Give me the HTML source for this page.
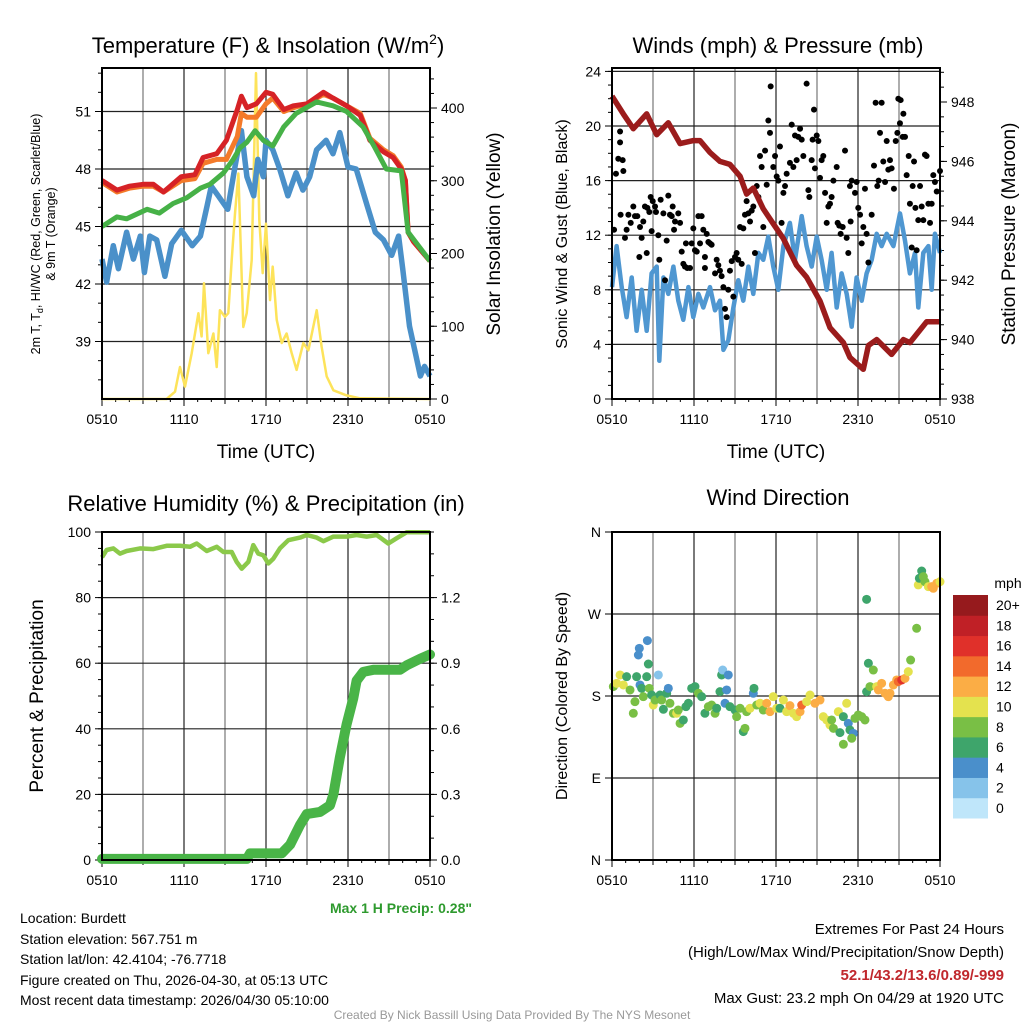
<!DOCTYPE html>
<html><head><meta charset="utf-8"><style>
html,body{margin:0;padding:0;background:#fff}
svg{display:block;font-family:"Liberation Sans",sans-serif}
</style></head><body>
<svg id="c" width="1024" height="1024" viewBox="0 0 1024 1024" xmlns="http://www.w3.org/2000/svg">
<g id="txt" fill="#000">
<text x="268" y="53" font-size="22" text-anchor="middle">Temperature (F) &amp; Insolation (W/m<tspan dy="-9" font-size="14">2</tspan><tspan dy="9">)</tspan></text>
<text x="778" y="53" font-size="22" text-anchor="middle">Winds (mph) &amp; Pressure (mb)</text>
<text x="266" y="511" font-size="22" text-anchor="middle">Relative Humidity (%) &amp; Precipitation (in)</text>
<text x="778" y="505" font-size="22" text-anchor="middle">Wind Direction</text>
<text transform="translate(40,234) rotate(-90)" font-size="12.5" text-anchor="middle">2m T, T<tspan font-size="9" dy="3">d</tspan><tspan dy="-3">, HI/WC (Red, Green, Scarlet/Blue)</tspan></text>
<text transform="translate(55,234) rotate(-90)" font-size="12.5" text-anchor="middle">&amp; 9m T (Orange)</text>
<text transform="translate(500,234) rotate(-90)" font-size="19" text-anchor="middle">Solar Insolation (Yellow)</text>
<text x="266" y="458" font-size="19" text-anchor="middle">Time (UTC)</text>
<text x="776" y="458" font-size="19" text-anchor="middle">Time (UTC)</text>
<text transform="translate(567,234) rotate(-90)" font-size="16" text-anchor="middle">Sonic Wind &amp; Gust (Blue, Black)</text>
<text transform="translate(1015,234) rotate(-90)" font-size="19" text-anchor="middle">Station Pressure (Maroon)</text>
<text transform="translate(43,696) rotate(-90)" font-size="19" text-anchor="middle">Percent &amp; Precipitation</text>
<text transform="translate(567,696) rotate(-90)" font-size="16" text-anchor="middle">Direction (Colored By Speed)</text>
<text x="472" y="913" font-size="14" font-weight="bold" fill="#2e9a2e" text-anchor="end">Max 1 H Precip: 0.28"</text>
<text x="1008" y="588" font-size="14" text-anchor="middle">mph</text>
<g font-size="14">
<text x="20" y="923">Location: Burdett</text>
<text x="20" y="944">Station elevation: 567.751 m</text>
<text x="20" y="964">Station lat/lon: 42.4104; -76.7718</text>
<text x="20" y="985">Figure created on Thu, 2026-04-30, at 05:13 UTC</text>
<text x="20" y="1005">Most recent data timestamp: 2026/04/30 05:10:00</text>
</g>
<g font-size="15" text-anchor="end">
<text x="1004" y="934">Extremes For Past 24 Hours</text>
<text x="1004" y="957">(High/Low/Max Wind/Precipitation/Snow Depth)</text>
<text x="1004" y="980" font-weight="bold" fill="#c0282d">52.1/43.2/13.6/0.89/-999</text>
<text x="1004" y="1003">Max Gust: 23.2 mph On 04/29 at 1920 UTC</text>
</g>
<text x="512" y="1019" font-size="12" fill="#999" text-anchor="middle">Created By Nick Bassill Using Data Provided By The NYS Mesonet</text>
</g>
</svg>
<script>
// ---------- data ----------
const xTickLabels = ['0510','1110','1710','2310','0510'];
const tempTicks = [39,42,45,48,51];
const solarTicks = [0,100,200,300,400];
const windTicks = [0,4,8,12,16,20,24];
const presTicks = [938,940,942,944,946,948];
const rhTicks = [0,20,40,60,80,100];
const precipTicks = ['0.0','0.3','0.6','0.9','1.2'];
const dirLabels = ['N','E','S','W','N'];
const speedBins = ['0','2','4','6','8','10','12','14','16','18','20+'];

const tRed = [0,1.1,2,3,3.75,4.5,5.8,6.8,7.4,8.4,9.1,9.9,10.2,10.6,11.3,12,12.5,13.3,14,15,16.2,16.9,17.9,18.9,19.6,20.6,21.3,21.9,22.2,22.4,22.8,24];
const redT = [47.4,46.9,47.1,47.2,47.2,46.8,47.6,47.7,48.6,48.8,49.5,51.1,51.8,51.2,51.4,52.0,51.9,51.1,51.3,51.4,52.0,51.7,51.3,50.8,49.5,48.9,48.6,48.0,47.4,44.7,44.2,43.2];
const orangeT = [47.3,46.8,47.0,47.1,47.1,46.8,47.4,47.5,48.3,48.5,48.5,49.7,50.9,50.7,50.7,51.4,51.7,51.0,51.2,51.4,51.9,51.7,51.3,50.9,49.6,49.0,48.7,48.1,47.4,44.7,44.2,43.2];
const tGreen = [0,1.1,1.8,3.3,4.2,5.2,6.2,7.2,7.9,8.9,9.6,10.1,10.6,11.2,11.8,12.5,13.3,14.2,15.2,15.7,16.9,17.9,19.1,19.9,20.8,21.9,22.4,24];
const greenT = [45.0,45.5,45.4,45.9,45.7,46.2,46.5,47.0,47.2,47.8,48.5,49.1,49.4,50.0,49.5,49.2,50.2,50.9,51.3,51.5,51.3,51.0,50.2,49.2,48.0,47.9,44.7,43.2];
const tBlue = [0,0.34,0.83,1.2,1.8,2.3,2.8,3.1,3.5,4.0,4.6,5.1,5.8,6.6,7.2,7.7,8.0,8.5,9.2,9.7,10.2,10.6,11.1,11.4,11.8,12.0,12.5,13.0,13.6,14.2,14.7,15.2,15.7,16.4,16.9,17.4,18.0,18.6,19.4,20.0,20.6,21.2,21.7,22.0,22.5,23.3,23.6,24];
const blueT = [43.3,42.1,44.0,42.8,44.7,43.3,44.5,42.6,44.5,44.3,42.4,44.1,44.8,44.0,44.5,46.1,47.1,46.6,45.9,48.0,50.0,47.6,46.6,48.5,47.6,49.5,49.0,48.0,46.6,47.8,46.9,47.6,49.0,49.5,48.8,49.9,48.1,48.0,46.1,44.7,44.3,43.5,44.5,42.8,39.8,37.2,37.7,37.2];
const tSolar = [0,4.73,5.34,5.71,6.07,6.56,7.05,7.29,7.46,7.78,8.15,8.39,8.63,9.0,9.24,9.49,9.73,9.98,10.34,10.59,10.95,11.12,11.27,11.51,11.76,12.0,12.29,12.49,12.78,13.15,13.51,13.88,14.24,14.73,15.1,15.71,16.07,16.44,16.93,17.9,18.88,24];
const solarW = [0,0,10,44,17,63,118,86,159,63,90,44,122,113,118,191,255,310,99,118,191,329,448,246,173,241,136,182,109,77,90,63,40,77,67,122,72,31,12,5,1,0];

const tPres = [0,0.83,1.56,2.54,3.27,4.12,4.98,5.95,6.44,7.17,7.9,8.63,9.37,9.85,10.34,11.07,11.8,12.54,13.51,14.24,15.22,15.95,16.93,17.41,18.39,18.76,19.37,20.46,21.32,21.8,23.02,24];
const presMb = [948.2,947.6,947.1,947.6,946.9,947.3,946.6,946.7,946.7,946.3,946.0,945.9,945.5,944.9,945.1,944.4,943.9,943.4,942.5,942.1,941.3,940.4,939.9,939.4,939.0,939.8,940.0,939.5,940.0,939.9,940.6,940.6];
const tWind = [0,0.34,0.71,1.07,1.44,1.8,2.17,2.54,2.9,3.27,3.46,3.76,4.12,4.49,4.85,5.22,5.59,5.95,6.32,6.68,7.17,7.54,7.9,8.15,8.51,8.88,9.24,9.61,9.98,10.34,10.71,11.07,11.44,11.8,12.17,12.54,13.02,13.39,13.88,14.24,14.61,14.98,15.34,15.71,16.07,16.44,16.8,17.17,17.54,17.9,18.27,18.63,19.0,19.37,19.73,20.1,20.59,21.07,21.44,21.8,22.17,22.41,22.78,23.15,23.39,23.63,24];
const windMph = [8.2,11.2,8.2,6.0,8.9,5.0,8.0,5.0,9.2,9.7,2.8,8.9,7.7,9.7,7.2,5.8,8.2,6.0,7.7,6.7,8.2,6.5,7.2,3.6,4.3,6.7,8.7,7.2,9.7,7.7,10.7,10.2,11.9,9.7,8.0,11.2,12.9,10.2,13.4,11.2,9.7,11.9,10.2,8.0,10.7,6.7,9.2,7.7,5.3,8.9,7.2,9.2,10.2,12.1,11.2,12.1,11.2,13.6,11.6,9.2,10.7,6.7,10.7,11.2,8.0,12.1,10.7];
const tGust = [0.15,0.29,0.46,0.59,0.59,0.78,0.83,0.63,0.95,1.07,1.2,1.37,1.56,1.68,1.85,2.0,2.05,2.17,2.29,2.41,2.54,2.59,2.73,2.83,2.9,2.98,3.15,3.22,3.39,3.46,3.56,3.76,3.88,4.0,4.12,4.24,4.37,4.44,4.54,4.61,4.85,4.98,5.1,5.22,5.34,5.41,5.51,5.71,5.83,5.95,6.07,6.2,6.32,6.44,6.56,6.68,6.8,6.8,6.93,7.05,7.17,7.29,7.54,7.66,7.78,7.9,8.02,8.15,8.27,8.39,8.51,8.63,8.76,8.88,9.0,9.12,9.24,9.37,9.49,9.61,9.73,9.85,9.98,10.1,10.22,10.34,10.46,10.59,10.71,10.83,10.95,11.07,11.2,11.32,11.44,11.56,11.61,11.8,11.93,12.05,12.17,12.29,12.41,12.54,12.66,12.78,13.02,13.15,13.27,13.39,13.51,13.63,13.76,13.88,14.0,14.24,14.37,14.44,14.61,14.68,14.78,14.85,14.98,15.1,15.22,15.34,15.46,15.59,15.71,15.83,15.95,16.07,16.2,16.44,16.51,16.63,16.73,16.88,17.05,17.17,17.29,17.41,17.46,17.54,17.78,17.9,18.02,18.15,18.27,18.39,18.51,18.63,18.76,19.0,19.17,19.29,19.41,19.51,19.61,19.73,19.85,19.98,20.1,20.22,20.34,20.46,20.63,20.76,20.88,20.95,21.07,21.12,21.27,21.32,21.44,21.56,21.71,21.8,21.93,22.0,22.1,22.2,22.29,22.41,22.54,22.66,22.78,22.9,23.02,23.15,23.27,23.39,23.51,23.63,23.76,24.0];
const gustMph = [12.4,16.5,17.6,19.6,18.8,17.5,16.7,13.5,11.8,12.4,13.5,12.9,14.1,13.4,13.4,10.4,12.6,11.8,13.0,14.1,10.7,14.0,13.7,14.8,12.3,14.5,14.1,13.7,12.0,10.2,14.6,13.6,8.7,11.6,14.9,13.5,13.4,14.1,12.4,13.0,13.6,12.9,10.8,9.9,9.7,11.4,9.6,9.6,11.4,12.5,10.9,10.8,13.4,11.4,13.4,12.4,10.4,9.6,12.1,11.5,11.4,11.3,9.2,10.2,9.8,9.4,9.0,8.2,6.6,6.0,8.0,9.4,10.1,7.5,10.4,10.7,10.2,12.6,9.9,12.5,13.5,14.5,13.6,13.0,13.8,14.1,10.7,15.6,14.8,17.8,17.0,12.6,18.2,15.7,20.4,19.5,22.9,17.0,17.8,16.3,16.0,18.5,12.9,15.1,15.6,16.5,17.3,20.1,17.0,19.3,17.5,19.2,19.8,19.0,17.8,23.1,15.3,14.8,17.5,19.0,21.2,16.9,19.3,18.9,16.2,17.5,17.8,15.1,12.9,14.1,14.3,14.8,16.0,17.0,12.9,12.7,12.1,12.6,18.2,11.8,10.7,15.6,13.0,16.0,15.1,15.9,14.0,13.5,11.4,12.6,15.4,12.1,10.0,13.5,17.1,21.7,15.6,16.0,19.5,21.7,17.4,15.9,18.9,16.8,17.5,16.9,15.4,18.9,19.5,22.0,20.2,21.9,19.2,20.9,19.2,16.4,17.8,14.3,11.1,15.6,17.4,14.0,10.9,13.1,15.6,14.1,13.1,17.9,17.8,14.3,12.9,14.3,16.4,15.9,15.2,16.7];

const tRH = [0,0.34,0.83,1.32,1.8,2.78,3.76,4.73,5.71,6.44,6.93,7.66,8.39,8.88,9.49,9.85,10.22,10.71,11.07,11.44,11.8,12.17,12.54,13.02,13.63,14.49,14.98,15.71,16.2,16.93,17.9,18.63,19.37,20.1,20.95,21.56,22.29,24];
const rhPct = [92.3,94.5,95.0,93.4,94.2,95.0,94.8,95.8,95.8,95.5,96.5,94.2,95.5,93.9,93.9,90.9,88.8,90.9,96.0,93.4,92.9,90.4,91.9,95.0,97.5,98.3,99.1,98.3,97.2,98.6,98.6,99.1,98.6,99.1,96.5,98.1,99.9,99.9];
const tPrecip = [0,10.6,10.83,13.15,13.76,14.49,14.98,15.95,16.68,16.93,17.41,17.9,18.39,18.63,19.12,19.85,21.8,22.29,23.27,24];
const precipIn = [0.005,0.005,0.03,0.03,0.07,0.16,0.21,0.22,0.25,0.30,0.47,0.62,0.74,0.82,0.86,0.87,0.87,0.89,0.92,0.94];

const tDir = [0.1,0.34,0.59,0.83,1.07,1.32,1.56,1.68,1.8,2.0,1.93,2.05,2.17,2.29,2.54,2.59,2.66,2.73,2.9,3.02,3.15,3.39,3.51,3.63,3.76,4.0,4.12,4.24,4.49,4.73,4.85,4.98,5.22,5.41,5.59,5.83,6.07,6.32,6.56,6.8,7.05,7.29,7.54,7.66,7.9,8.02,8.1,8.39,8.51,8.27,8.63,9.0,9.12,9.37,9.61,9.73,9.85,10.1,10.34,10.39,10.59,10.83,11.07,11.32,11.56,11.8,12.05,12.29,12.54,12.78,13.02,13.27,13.51,13.76,13.88,14.24,14.49,14.85,15.22,15.46,15.71,15.95,16.07,16.2,16.56,16.68,16.93,16.93,17.17,17.29,17.41,17.66,17.54,17.78,18.02,18.27,18.51,18.63,18.63,18.76,18.88,19.12,19.37,19.49,19.73,19.98,20.22,20.34,20.59,20.83,20.95,21.2,21.44,21.68,21.85,22.29,22.41,22.49,22.66,22.78,22.9,23.15,23.39,23.51,23.76,24.0];
const dirDeg = [190.3,193.9,203.1,192.1,201.2,186.6,161.0,173.8,201.2,232.3,225.0,192.1,188.4,179.3,201.2,240.8,215.1,188.4,181.1,170.1,175.6,203.1,181.1,175.6,165.4,183.0,188.4,172.0,161.0,161.0,164.6,150.0,153.7,168.3,172.0,188.4,190.3,183.0,179.3,161.0,168.3,170.1,161.0,166.5,184.8,203.1,208.5,186.6,203.1,172.0,168.3,164.6,157.3,166.5,140.9,144.5,162.8,166.5,183.0,188.4,170.1,172.0,164.6,172.0,162.8,179.3,166.5,166.5,175.6,162.8,169.4,161.0,157.3,162.8,170.1,173.8,181.1,172.0,175.6,157.3,153.7,148.2,153.7,144.5,162.8,139.8,157.3,127.0,172.0,150.0,142.7,139.0,133.6,155.5,159.2,157.3,153.7,286.1,184.8,215.9,190.3,208.5,190.3,186.6,193.9,183.0,179.3,183.0,192.1,197.6,195.8,197.6,199.4,206.7,219.5,254.3,301.9,309.2,317.2,311.0,305.5,300.0,300.0,298.2,303.7,305.5,301.9];
const dirSpd = [8,10,10,10,6,8,8,8,6,4,4,4,6,8,6,4,6,8,6,10,8,2,6,8,6,6,4,8,8,10,8,8,6,6,6,6,6,8,6,6,8,8,8,6,6,6,2,4,4,4,6,6,8,8,6,8,8,10,4,6,8,10,8,12,12,10,10,6,10,10,12,10,10,12,14,10,10,12,12,10,10,10,8,8,10,6,6,8,10,4,6,4,8,8,8,8,8,6,6,6,8,8,10,12,12,12,12,12,12,12,14,16,12,10,8,8,10,6,6,8,8,10,12,12,12,10,10];

const binColors = ['#bfe6fa','#86c3ea','#4a8fcb','#3ea56b','#79bf45','#e4e24e','#fbad45','#f26a2c','#e0302a','#c02026','#961a1d'];

// ---------- helpers ----------
const NS='http://www.w3.org/2000/svg';
const svg=document.getElementById('c');
function mk(tag,attrs,parent){const e=document.createElementNS(NS,tag);for(const k in attrs)e.setAttribute(k,attrs[k]);(parent||svg).appendChild(e);return e;}
function pathD(xs,ys,fx,fy){return xs.map((x,i)=>(i?'L':'M')+fx(x).toFixed(1)+','+fy(ys[i]).toFixed(1)).join('');}

// axes scales
const L1=102,R1=430,L2=612,R2=940,T1=68,B1=399,T2=532,B2=860;
const x1=t=>L1+t*(R1-L1)/24, x2=t=>L2+t*(R2-L2)/24;
const yTemp=v=>B1-(v-36)*(57.5/3);
const ySol=v=>B1-v*0.7275;
const yWind=v=>B1-v*13.65;
const yPres=v=>B1-(v-938)*29.7;
const yRH=v=>B2-v*3.28;
const yPr=v=>B2-v*218.67;
const yDir=d=>B2-d*82/90;

function frame(L,R,T,B,name,hvals,hfun){
  const g=mk('g',{});
  
  
  for(let t=3;t<24;t+=3){const X=L+t*(R-L)/24;mk('line',{x1:X,x2:X,y1:T,y2:B,stroke:t%6?'#777':'#222','stroke-width':1.2},g);}
  hvals.forEach(v=>{const Y=hfun(v);if(Y>T+1&&Y<B-1)mk('line',{x1:L,x2:R,y1:Y,y2:Y,stroke:'#222','stroke-width':1.2},g);});
  // x ticks
  for(let t=0;t<=24;t++){const X=L+t*(R-L)/24;const len=t%6==0?7:(t%3==0?5:3);mk('line',{x1:X,x2:X,y1:B,y2:B+len,stroke:'#000','stroke-width':1},g);}
  xTickLabels.forEach((s,i)=>{const tx=mk('text',{x:L+i*(R-L)/4,y:B+25,'font-size':14,'text-anchor':'middle'},g);tx.textContent=s;});
  return g;
}
function border(L,R,T,B){const r=mk('rect',{x:L,y:T,width:R-L,height:B-T,fill:'none',stroke:'#000','stroke-width':2});}
function ticksY(X,vals,fy,labels,side,minorVals,name){
  const g=mk('g',{});
  
  
  const d=side=='left'?-1:1;
  minorVals.forEach(v=>mk('line',{x1:X,x2:X+d*4,y1:fy(v),y2:fy(v),stroke:'#000','stroke-width':1},g));
  vals.forEach((v,i)=>{const Y=fy(v);mk('line',{x1:X,x2:X+d*7,y1:Y,y2:Y,stroke:'#000','stroke-width':1},g);
    const tx=mk('text',{x:X+d*11,y:Y+5,'font-size':14,'text-anchor':side=='left'?'end':'start'},g);tx.textContent=labels[i];});
}
function range(a,b,s){const r=[];for(let v=a;v<=b+1e-9;v+=s)r.push(+v.toFixed(3));return r;}

// ---------- panel 1 ----------
frame(L1,R1,T1,B1,'temp-grid',tempTicks,yTemp);
ticksY(L1,tempTicks,yTemp,tempTicks.map(String),'left',range(37,53,1),'temp-y-axis');
ticksY(R1,solarTicks,ySol,solarTicks.map(String),'right',range(20,440,20),'solar-y-axis');
const sol=mk('path',{d:pathD(tSolar,solarW,x1,ySol),fill:'none',stroke:'#fde35a','stroke-width':2.5,'stroke-linejoin':'round'});


const blu=mk('path',{d:pathD(tBlue,blueT,x1,yTemp),fill:'none',stroke:'#4a90c9','stroke-width':5.5,'stroke-linejoin':'round'});


const org=mk('path',{d:pathD(tRed,orangeT,x1,yTemp),fill:'none',stroke:'#f47a2a','stroke-width':5,'stroke-linejoin':'round'});


const red=mk('path',{d:pathD(tRed,redT,x1,yTemp),fill:'none',stroke:'#d62226','stroke-width':5,'stroke-linejoin':'round'});


const grn=mk('path',{d:pathD(tGreen,greenT,x1,yTemp),fill:'none',stroke:'#46b147','stroke-width':5,'stroke-linejoin':'round'});


border(L1,R1,T1,B1);

// ---------- panel 2 ----------
frame(L2,R2,T1,B1,'wind-grid',windTicks,yWind);
ticksY(L2,windTicks,yWind,windTicks.map(String),'left',range(0,24,1),'wind-y-axis');
ticksY(R2,presTicks,yPres,presTicks.map(String),'right',range(938,949,0.5),'pressure-y-axis');
const wl=mk('path',{d:pathD(tWind,windMph,x2,yWind),fill:'none',stroke:'#4f97d1','stroke-width':4.5,'stroke-linejoin':'round'});


const gg=mk('g',{});


tGust.forEach((t,i)=>{const c=mk('circle',{cx:x2(t),cy:yWind(gustMph[i]),r:3,fill:'#000'},gg);

});
const pl=mk('path',{d:pathD(tPres,presMb,x2,yPres),fill:'none',stroke:'#9b1c1c','stroke-width':5.5,'stroke-linejoin':'round'});


border(L2,R2,T1,B1);

// ---------- panel 3 ----------
frame(L1,R1,T2,B2,'rh-grid',rhTicks,yRH);
ticksY(L1,rhTicks,yRH,rhTicks.map(String),'left',range(0,100,5),'rh-y-axis');
ticksY(R1,precipTicks.map(Number),yPr,precipTicks,'right',range(0,1.5,0.1),'precip-y-axis');
const rl=mk('path',{d:pathD(tRH,rhPct,x1,yRH),fill:'none',stroke:'#8bc94a','stroke-width':4.5,'stroke-linejoin':'round'});


const pr=mk('path',{d:pathD(tPrecip,precipIn,x1,yPr),fill:'none',stroke:'#49b447','stroke-width':10,'stroke-linejoin':'round','stroke-linecap':'round'});


border(L1,R1,T2,B2);

// ---------- panel 4 ----------
frame(L2,R2,T2,B2,'direction-grid',[0,90,180,270,360],yDir);
ticksY(L2,[0,90,180,270,360],yDir,dirLabels,'left',[],'direction-y-axis');
const dg=mk('g',{});


tDir.forEach((t,i)=>{const c=mk('circle',{cx:x2(t),cy:yDir(dirDeg[i]),r:4.5,fill:binColors[Math.min(10,Math.round(dirSpd[i]/2))]},dg);

});
border(L2,R2,T2,B2);

// colorbar
const cb=mk('g',{});


const cbTop=595,cbH=223/11;
speedBins.forEach((s,i)=>{const Y=cbTop+(10-i)*cbH;
  const r=mk('rect',{x:953,y:Y,width:35,height:cbH+0.5,fill:binColors[i]},cb);
  
  
  const tx=mk('text',{x:996,y:Y+cbH/2+5,'font-size':14},cb);tx.textContent=s;});
</script>
</body></html>
